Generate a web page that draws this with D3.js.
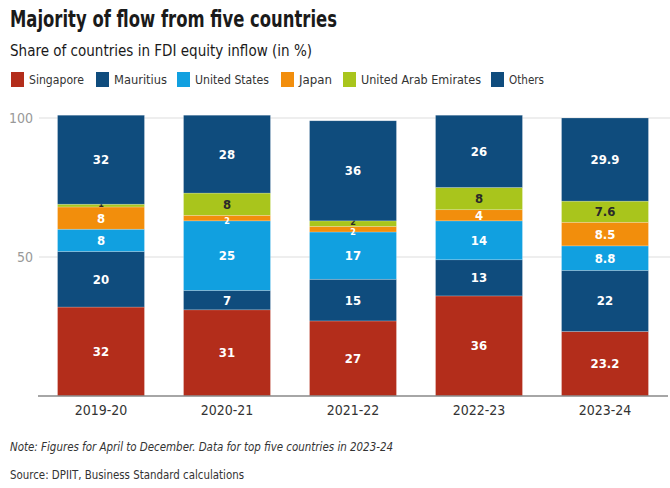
<!DOCTYPE html>
<html><head><meta charset="utf-8">
<script src="https://cdn.jsdelivr.net/npm/d3@7"></script>
<style>
body{margin:0;background:#fff;}
svg{display:block;font-family:"DejaVu Sans Condensed","Liberation Sans Narrow",Roboto,sans-serif;}
</style></head>
<body><svg id="c" width="670" height="488"></svg>
<script>
const years = ["2019-20","2020-21","2021-22","2022-23","2023-24"];
const seriesNames = ["Singapore","Mauritius","United States","Japan","United Arab Emirates","Others"];
const singapore = [32,31,27,36,23.2];
const mauritius = [20,7,15,13,22];
const unitedStates = [8,25,17,14,8.8];
const japan = [8,2,2,4,8.5];
const uae = [1,8,2,8,7.6];
const others = [32,28,36,26,29.9];
const yTicks = [50,100];
const colors = ["#b32d1b","#0f4c7d","#11a0e0","#f28e0c","#a9c51c","#0f4c7d"];
const labelColors = ["#fff","#fff","#fff","#fff","#2a2a2a","#fff"];

const seriesVals = [singapore,mauritius,unitedStates,japan,uae,others];
const keys = ["s0","s1","s2","s3","s4","s5"];
const rows = years.map((y,i)=>{const r={year:y};keys.forEach((k,j)=>r[k]=seriesVals[j][i]);return r;});
const stacked = d3.stack().keys(keys)(rows);

const svg = d3.select("#c");
const x = d3.scaleBand().domain(years).range([38,668]).paddingInner(0.31).paddingOuter(0.155);
const y = d3.scaleLinear().domain([0,100]).range([396,118]);

// title
svg.append("text").attr("x",10).attr("y",27).attr("font-size",23).attr("font-weight","bold").attr("fill","#1a1a1a")
  .attr("textLength",327).attr("lengthAdjust","spacingAndGlyphs").text("Majority of flow from five countries");
svg.append("text").attr("x",10).attr("y",56).attr("font-size",15).attr("fill","#1a1a1a")
  .attr("textLength",302).attr("lengthAdjust","spacingAndGlyphs").text("Share of countries in FDI equity inflow (in %)");

// legend
const legX = [11,96,177,281,343,491];
const legW = [55,53,74,33,120,35];
const leg = svg.append("g");
seriesNames.forEach((n,i)=>{
  leg.append("rect").attr("x",legX[i]).attr("y",72).attr("width",13).attr("height",15).attr("fill",colors[i]);
  leg.append("text").attr("x",legX[i]+18).attr("y",84).attr("font-size",13).attr("fill","#333")
    .attr("textLength",legW[i]).attr("lengthAdjust","spacingAndGlyphs").text(n);
});

// grid
const grid = svg.append("g");
yTicks.forEach(t=>{
  grid.append("line").attr("x1",39).attr("x2",670).attr("y1",y(t)).attr("y2",y(t)).attr("stroke","#e8e8e8").attr("stroke-width",1.5);
  grid.append("text").attr("x",33).attr("y",y(t)+5).attr("text-anchor","end").attr("font-size",14).attr("fill","#999").text(t);
});

// bars
stacked.forEach((s,si)=>{
  const g = svg.append("g");
  g.selectAll("rect").data(s).join("rect")
    .attr("x",d=>x(d.data.year)).attr("width",x.bandwidth())
    .attr("y",d=>y(d[1])).attr("height",d=>y(d[0])-y(d[1]))
    .attr("fill",colors[si]).attr("stroke","rgba(255,255,255,0.35)").attr("stroke-width",0.6);
  g.selectAll("text").data(s).join("text")
    .attr("x",d=>x(d.data.year)+x.bandwidth()/2)
    .attr("y",d=>{const small=(d[1]-d[0])<3; const shift = small ? (si===3?2.5:(si===4?-2:0)) : 0;
      return (y(d[0])+y(d[1]))/2+(small?3:4.5)+shift;})
    .attr("text-anchor","middle").attr("font-size",d=>(d[1]-d[0])<3?9:13).attr("font-weight","bold")
    .attr("fill",labelColors[si]).text(d=>String(+(d.data[s.key]).toFixed(1)));
});

// x axis
const xa = svg.append("g").attr("transform","translate(0,396)");
xa.append("line").attr("x1",38).attr("x2",668).attr("stroke","#888").attr("stroke-width",1.5);
xa.selectAll("text").data(years).join("text")
  .attr("x",d=>x(d)+x.bandwidth()/2).attr("y",19).attr("text-anchor","middle")
  .attr("font-size",14).attr("fill","#333").text(d=>d);

// footer
svg.append("text").attr("x",10).attr("y",451).attr("font-size",11.5).attr("font-style","italic").attr("fill","#333")
  .attr("textLength",383).attr("lengthAdjust","spacingAndGlyphs").text("Note: Figures for April to December. Data for top five countries in 2023-24");
svg.append("text").attr("x",10).attr("y",479).attr("font-size",11.5).attr("fill","#333")
  .attr("textLength",234).attr("lengthAdjust","spacingAndGlyphs").text("Source: DPIIT, Business Standard calculations");
</script></body></html>
